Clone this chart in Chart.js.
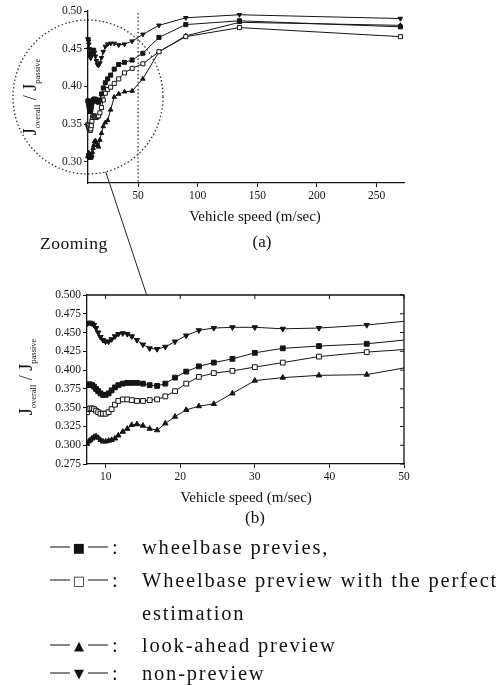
<!DOCTYPE html>
<html><head><meta charset="utf-8">
<script src="https://cdn.jsdelivr.net/npm/chart.js@4.4.1/dist/chart.umd.min.js"></script>
<style>
body{margin:0;background:#fff;width:504px;height:685px;position:relative;overflow:hidden;font-family:"Liberation Serif","DejaVu Serif",serif;color:#111}
.abs{position:absolute}
.ytitle{position:absolute;transform:translate(-50%,-50%) rotate(-90deg);white-space:nowrap;font-size:18px;line-height:1}
.ytitle sub{font-size:8.5px;vertical-align:-4px}
.xtitle{position:absolute;transform:translate(-50%,-50%);white-space:nowrap;font-size:15px}
.leg{position:absolute;font-size:20.5px;letter-spacing:1.8px;white-space:nowrap;transform:translateY(-50%)}
.sym{position:absolute;font-family:"DejaVu Sans",sans-serif;font-size:13px;white-space:nowrap;transform:translateY(-50%);letter-spacing:0;width:58px;display:flex;align-items:center;justify-content:space-between}
.sym i{font-style:normal;display:inline-block;width:20px;height:1px;background:#111}
</style></head><body>
<canvas id="ca" class="abs" width="420" height="212" style="left:0;top:0;width:420px;height:212px"></canvas>
<canvas id="cb" class="abs" width="420" height="205" style="left:0;top:284px;width:420px;height:205px"></canvas>
<canvas id="ov" class="abs" width="504" height="685" style="left:0;top:0;width:504px;height:685px;pointer-events:none"></canvas>

<div class="ytitle" style="left:31px;top:97px">J<sub>overall</sub> / J<sub>passive</sub></div>
<div class="xtitle" style="left:255px;top:216px">Vehicle speed (m/sec)</div>
<div class="abs" style="left:40px;top:233px;font-size:17.5px;letter-spacing:0.5px">Zooming</div>
<div class="abs" style="left:262px;top:242px;font-size:17px;transform:translate(-50%,-50%)">(a)</div>

<div class="ytitle" style="left:27px;top:377px">J<sub>overall</sub> / J<sub>passive</sub></div>
<div class="xtitle" style="left:246px;top:497px">Vehicle speed (m/sec)</div>
<div class="abs" style="left:255px;top:518px;font-size:17px;transform:translate(-50%,-50%)">(b)</div>

<div class="sym" style="left:50px;top:547px"><i></i><span>■</span><i></i></div><div class="leg" style="left:112px;top:547px">:</div>
<div class="leg" style="left:142px;top:547px">wheelbase previes,</div>
<div class="sym" style="left:50px;top:580px"><i></i><span>□</span><i></i></div><div class="leg" style="left:112px;top:580px">:</div>
<div class="leg" style="left:142px;top:580px">Wheelbase preview with the perfect</div>
<div class="leg" style="left:142px;top:613px">estimation</div>
<div class="sym" style="left:50px;top:645px"><i></i><span>▲</span><i></i></div><div class="leg" style="left:112px;top:645px">:</div>
<div class="leg" style="left:142px;top:645px">look-ahead preview</div>
<div class="sym" style="left:50px;top:673px"><i></i><span>▼</span><i></i></div><div class="leg" style="left:112px;top:673px">:</div>
<div class="leg" style="left:142px;top:673px">non-preview</div>

<script>
// ---- data ----
const SPEED = [7.5,7.71,7.94,8.18,8.44,8.71,9.0,9.31,9.64,10.0,10.4,10.8,11.25,11.7,12.3,12.9,13.5,14.2,15.0,15.9,16.9,18.0,19.3,20.8,22.5,24.5,27.0,30.0,33.75,38.6,45.0,54.0,67.5,90.0,135.0,270.0];
const WHEELBASE = [0.380,0.381,0.381,0.380,0.378,0.375,0.372,0.369,0.367,0.367,0.369,0.373,0.377,0.380,0.382,0.383,0.383,0.383,0.382,0.380,0.379,0.382,0.390,0.398,0.405,0.410,0.415,0.423,0.429,0.432,0.435,0.444,0.465,0.482,0.487,0.479];
const WHEELBASE_PERFECT = [0.344,0.348,0.349,0.349,0.348,0.346,0.344,0.342,0.342,0.342,0.344,0.348,0.354,0.359,0.361,0.361,0.360,0.359,0.359,0.360,0.361,0.365,0.372,0.382,0.391,0.396,0.399,0.404,0.410,0.418,0.424,0.430,0.446,0.466,0.478,0.466];
const LOOK_AHEAD = [0.302,0.305,0.307,0.309,0.311,0.312,0.310,0.307,0.305,0.305,0.306,0.307,0.309,0.313,0.318,0.322,0.327,0.328,0.326,0.322,0.320,0.329,0.338,0.347,0.352,0.355,0.369,0.386,0.390,0.393,0.394,0.410,0.446,0.467,0.485,0.481];
const NON_PREVIEW = [0.462,0.463,0.463,0.462,0.460,0.456,0.450,0.444,0.440,0.438,0.438,0.441,0.445,0.448,0.449,0.448,0.445,0.440,0.434,0.429,0.428,0.431,0.438,0.446,0.453,0.456,0.457,0.457,0.455,0.456,0.460,0.469,0.481,0.491,0.495,0.490];
const A_XTICKS = [50,100,150,200,250];
const A_YTICKS = [0.30,0.35,0.40,0.45,0.50];
const B_XTICKS = [10,20,30,40,50];
const B_YTICKS = [0.275,0.300,0.325,0.350,0.375,0.400,0.425,0.450,0.475,0.500];

const INK = '#151515';
const tickFont = {family:'"Liberation Serif", serif', size:11.5};
const pts = arr => SPEED.map((x,i)=>({x, y:arr[i]}));

function makeDatasets(r, clip){
  const base = {borderColor:INK, borderWidth:1, pointBorderColor:INK, pointBorderWidth:1, clip, tension:0};
  return [
    Object.assign({}, base, {label:'wheelbase previes', data:pts(WHEELBASE), pointStyle:'rect', pointRadius:r*1.1, pointBackgroundColor:INK}),
    Object.assign({}, base, {label:'Wheelbase preview with the perfect estimation', data:pts(WHEELBASE_PERFECT), pointStyle:'rect', pointRadius:r*1.1, pointBackgroundColor:'#fff'}),
    Object.assign({}, base, {label:'look-ahead preview', data:pts(LOOK_AHEAD), pointStyle:'triangle', pointRadius:r, pointBackgroundColor:INK}),
    Object.assign({}, base, {label:'non-preview', data:pts(NON_PREVIEW), pointStyle:'triangle', pointRotation:180, pointRadius:r, pointBackgroundColor:INK}),
  ];
}

function axisCfg(min, max, ticks, fmt, isX, fixedSize){
  return {
    type:'linear', min, max,
    afterBuildTicks: s => { s.ticks = ticks.map(v=>({value:v})); },
    afterFit: s => { if(isX) s.height = fixedSize; else s.width = fixedSize; },
    ticks:{font:tickFont, color:INK, padding:2, maxRotation:0, autoSkip:false, callback:v=>fmt(v)},
    grid:{display:true, drawOnChartArea:false, drawTicks:true, tickLength:4, color:INK, lineWidth:1},
    border:{display:true, color:INK, width:1.3}
  };
}

const commonOpts = {
  responsive:false, animation:false, devicePixelRatio:1,
  plugins:{legend:{display:false}, tooltip:{enabled:false}},
};

// dotted circle and vertical line for chart (a)
const zoomMarks = {
  id:'zoomMarks',
  afterDatasetsDraw(chart){
    const {ctx, scales:{x,y}, chartArea} = chart;
    ctx.save();
    ctx.strokeStyle = '#333'; ctx.lineWidth = 1.4; ctx.setLineDash([1.4,2.4]);
    const xv = x.getPixelForValue(50);
    ctx.beginPath(); ctx.moveTo(xv, chartArea.top+2); ctx.lineTo(xv, chartArea.bottom); ctx.stroke();
    const cx = chartArea.left, cy = y.getPixelForValue(0.386);
    ctx.beginPath(); ctx.ellipse(cx, cy, 75, 77, 0, 0, Math.PI*2); ctx.stroke();
    ctx.restore();
    chart.$circle = {cx, cy, rx:75, ry:77};
  }
};

// box with inward ticks on top/right for chart (b)
const boxTicks = {
  id:'boxTicks',
  afterDraw(chart){
    const {ctx, scales:{x,y}, chartArea:a} = chart;
    ctx.save(); ctx.strokeStyle = INK; ctx.lineWidth = 1.3;
    ctx.beginPath(); ctx.moveTo(a.left,a.top); ctx.lineTo(a.right,a.top); ctx.lineTo(a.right,a.bottom); ctx.stroke();
    ctx.lineWidth = 1;
    ctx.beginPath();
    B_XTICKS.forEach(v=>{const p=x.getPixelForValue(v); ctx.moveTo(p,a.top); ctx.lineTo(p,a.top+4);});
    B_YTICKS.forEach(v=>{const p=y.getPixelForValue(v); ctx.moveTo(a.right,p); ctx.lineTo(a.right-4,p);});
    ctx.stroke(); ctx.restore();
  }
};

const chartA = new Chart(document.getElementById('ca'), {
  type:'line',
  data:{datasets:makeDatasets(2.6, {left:6, top:6, right:6, bottom:0})},
  options:Object.assign({}, commonOpts, {
    layout:{padding:{top:11, right:16, bottom:0, left:0}},
    scales:{
      x: axisCfg(8, 273, A_XTICKS, v=>String(v), true, 29),
      y: axisCfg(0.272, 0.50, A_YTICKS, v=>v.toFixed(2), false, 88)
    }
  }),
  plugins:[zoomMarks]
});

const chartB = new Chart(document.getElementById('cb'), {
  type:'line',
  data:{datasets:makeDatasets(3.1, {left:0, top:0, right:0, bottom:0})},
  options:Object.assign({}, commonOpts, {
    layout:{padding:{top:11, right:16, bottom:0, left:0}},
    scales:{
      x: axisCfg(7.5, 50, B_XTICKS, v=>String(v), true, 25),
      y: axisCfg(0.275, 0.500, B_YTICKS, v=>v.toFixed(3), false, 87)
    }
  }),
  plugins:[boxTicks]
});

// connecting "zooming" line
(function(){
  const c = chartA.$circle;
  const ang = Math.atan2(74, 18);
  const x0 = c.cx + c.rx*Math.cos(ang), y0 = c.cy + c.ry*Math.sin(ang);
  const x1 = chartB.scales.x.getPixelForValue(15.5), y1 = 284 + chartB.chartArea.top;
  const ctx = document.getElementById('ov').getContext('2d');
  ctx.strokeStyle = '#222'; ctx.lineWidth = 1;
  ctx.beginPath(); ctx.moveTo(x0,y0); ctx.lineTo(x1,y1); ctx.stroke();
})();
</script>
</body></html>
